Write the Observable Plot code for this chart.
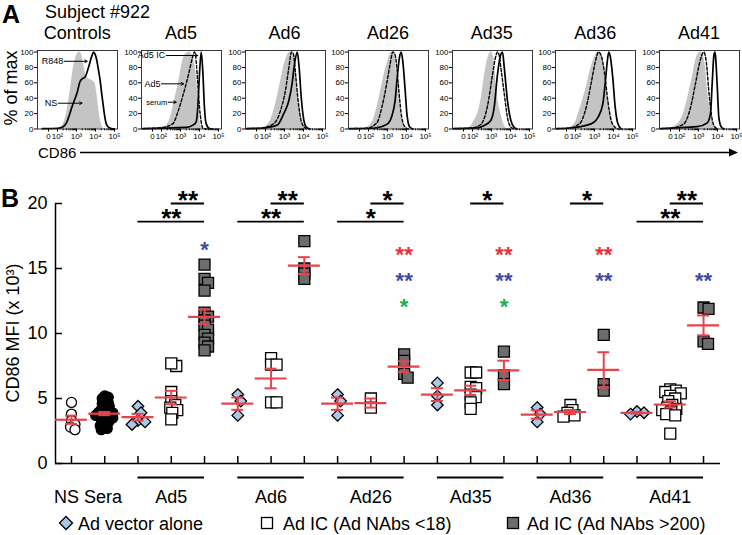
<!DOCTYPE html>
<html><head><meta charset="utf-8">
<script src="https://cdn.jsdelivr.net/npm/d3@7"></script>
<script src="https://cdn.jsdelivr.net/npm/@observablehq/plot@0.6"></script>
<style>
body{margin:0;background:#fff;}
#root{position:relative;width:742px;height:535px;overflow:hidden;background:#fff;}
#root svg{position:absolute;overflow:visible;}
</style></head><body><div id="root"></div>
<script>
// ================= DATA =================
// Panel A : flow-cytometry histograms (x in log10 display units, y in % of max)
const panelTitles = ["Controls", "Ad5", "Ad6", "Ad26", "Ad35", "Ad36", "Ad41"];
const histTickPos = [1.526, 2, 3, 4, 5];
const histTickText = ["0", "10²", "10³", "10⁴", "10⁵"];
const pctTicks = [0, 20, 40, 60, 80, 100];

const histGrey = [
  [[1.95,0],[2.15,2],[2.32,7],[2.49,22],[2.67,50],[2.84,80],[3.02,96],[3.12,100],[3.25,98],[3.37,85],[3.46,74],[3.63,65],[3.81,63],[3.98,59],[4.07,46],[4.16,28],[4.25,13],[4.33,5],[4.45,0]],
  [[1.9,0],[2.07,1],[2.25,4],[2.42,11],[2.55,22],[2.68,37],[2.82,52],[2.95,67],[3.12,89],[3.3,98],[3.45,100],[3.65,94],[3.82,72],[3.91,46],[4.0,16],[4.09,3.5],[4.18,0]],
  [[1.6,0],[1.9,2],[2.26,11],[2.45,25],[2.61,41],[2.75,57],[2.88,72],[3.0,85],[3.14,95],[3.28,100],[3.49,93],[3.63,67],[3.75,37],[3.88,11],[4.02,2],[4.15,0]],
  [[1.6,0],[1.91,2],[2.26,12],[2.53,37],[2.79,67],[3.05,91],[3.2,100],[3.4,93],[3.49,67],[3.63,37],[3.75,15],[3.88,3],[4.0,0]],
  [[1.6,0],[1.9,3],[2.09,11],[2.3,22],[2.44,37],[2.7,80],[2.88,97],[2.98,100],[3.14,89],[3.23,63],[3.32,41],[3.49,20],[3.67,4.5],[3.85,0]],
  [[1.3,0],[1.6,1],[1.95,6.7],[2.21,24],[2.56,54],[2.82,80],[3.09,97.6],[3.2,100],[3.26,98.5],[3.44,89],[3.61,54],[3.79,24],[3.96,6.7],[4.14,0]],
  [[1.3,0],[1.53,1],[2.05,11],[2.4,37],[2.67,67],[2.93,95.5],[3.1,100],[3.19,98.5],[3.37,80],[3.46,54],[3.63,24],[3.77,6.7],[3.95,2],[4.2,0]]
];
const histDashed = [
  [],
  [[1.0,0.5],[2.07,2],[2.6,7],[2.86,22],[3.12,43],[3.3,59],[3.47,76],[3.61,91],[3.74,100],[3.82,89],[3.91,59],[4.0,28],[4.09,9],[4.18,1],[4.4,0]],
  [[1.0,0.5],[1.74,1],[2.44,7],[2.79,24],[3.05,50],[3.23,80],[3.37,100],[3.46,98],[3.58,72],[3.7,41],[3.84,15],[4.02,3],[4.2,0]],
  [[1.0,0.5],[1.91,1],[2.44,8],[2.7,28],[2.96,59],[3.14,85],[3.28,100],[3.4,96],[3.49,80],[3.61,46],[3.75,15],[3.93,2.5],[4.1,0]],
  [[1.0,0.5],[2.0,1.5],[2.44,6],[2.79,30],[3.05,70],[3.2,92],[3.32,100],[3.4,96],[3.49,80],[3.67,46],[3.84,15],[4.02,2.4],[4.2,0]],
  [[1.0,0.5],[1.6,1],[2.21,6.7],[2.56,28],[2.82,59],[3.04,87],[3.21,100],[3.35,95.5],[3.53,72],[3.7,37],[3.88,11],[4.09,2],[4.25,0]],
  [[1.0,0.5],[1.53,1],[2.23,6.7],[2.58,28],[2.84,59],[3.07,87],[3.28,100],[3.42,85],[3.54,50],[3.67,20],[3.81,4.5],[4.0,0]]
];
const histSolid = [
  [[1.2,0.5],[2.0,1],[2.3,3],[2.49,9],[2.65,20],[2.75,28],[2.9,38],[3.02,46],[3.19,62],[3.35,66],[3.46,68],[3.63,80],[3.81,95],[3.9,100],[3.98,97],[4.07,89],[4.16,76],[4.25,62],[4.33,45],[4.42,28],[4.5,14],[4.56,7],[4.7,2],[4.85,0.5],[5.0,0]],
  [[1.0,0.5],[3.3,2],[3.65,5],[3.82,9],[3.91,28],[4.0,72],[4.09,100],[4.18,72],[4.26,28],[4.35,7],[4.53,0.5],[4.7,0]],
  [[1.0,0.5],[1.74,1],[2.61,5],[2.96,20],[3.23,37],[3.4,59],[3.53,85],[3.67,100],[3.77,80],[3.88,41],[4.02,11],[4.16,2],[4.35,0]],
  [[1.0,0.5],[2.26,1],[2.96,6],[3.23,17],[3.4,37],[3.53,72],[3.63,93],[3.72,100],[3.81,87],[3.93,50],[4.02,20],[4.16,3],[4.35,0]],
  [[1.0,0.5],[2.3,1.5],[2.61,4.5],[2.96,11],[3.14,28],[3.32,72],[3.49,97],[3.58,100],[3.67,80],[3.84,37],[4.02,11],[4.19,2],[4.35,0]],
  [[1.0,0.5],[1.6,1],[2.82,6.7],[3.18,15],[3.44,33],[3.56,59],[3.67,87],[3.75,100],[3.84,93],[3.96,67],[4.09,28],[4.23,6.7],[4.4,0]],
  [[1.0,0.5],[2.93,3],[3.46,8],[3.63,20],[3.72,59],[3.81,96],[3.86,100],[3.89,96],[3.98,59],[4.07,15],[4.19,3],[4.35,0]]
];
// arrow annotations inside panels A
const annotPanel = [0, 0, 1, 1, 1];
const annotLabel = ["R848", "NS", "Ad5 IC", "Ad5", "serum"];
const annotFrom = [2.35, 2.04, 2.25, 2.0, 2.35];
const annotTo = [3.56, 3.29, 3.91, 3.16, 2.77];
const annotLevel = [88, 33.5, 95.5, 58.7, 34.8];

// Panel B : CD86 MFI (x 10^3)
const yTicksB = [0, 5, 10, 15, 20];
const nsValues = [4.7, 3.8, 3.3, 3.0, 2.8, 2.6];
const seraValues = [5.2, 5.1, 5.0, 4.8, 4.7, 4.6, 4.5, 4.4, 4.3, 4.2, 4.1, 4.0, 4.0, 3.9, 3.9, 3.8, 3.8, 3.7, 3.7, 3.6, 3.6, 3.5, 3.5, 3.4, 3.3, 3.2, 3.1, 3.0, 2.9, 2.8, 2.7, 2.6];
const adGroups = ["Ad5", "Ad6", "Ad26", "Ad35", "Ad36", "Ad41"];
const vectorAlone = [
  [4.4, 3.9, 3.3, 3.0, 3.2],
  [5.3, 4.8, 3.7],
  [5.3, 4.8, 3.7],
  [6.2, 5.2, 4.5],
  [4.3, 3.8, 3.2],
  [4.0, 3.9, 3.8]
];
const icLowNAb = [
  [7.5, 7.7, 5.5, 4.8, 4.5, 4.3, 4.1, 3.9, 3.4],
  [8.1, 7.6, 7.6, 4.7, 4.7],
  [5.0, 4.3],
  [7.0, 7.0, 5.9, 5.8, 5.3, 5.1, 4.7, 4.2],
  [4.5, 4.1, 3.9, 3.7, 3.6],
  [5.7, 5.6, 5.5, 5.4, 5.2, 5.0, 4.8, 4.5, 4.3, 4.2, 4.1, 4.0, 3.8, 3.7, 2.3]
];
const icHighNAb = [
  [15.3, 14.2, 13.9, 13.3, 11.6, 11.3, 11.0, 10.6, 10.3, 9.9, 9.6, 9.3, 9.0, 8.7],
  [17.1, 15.0, 14.6, 14.2],
  [8.4, 7.9, 6.9, 6.6],
  [8.6, 6.8, 6.1],
  [9.9, 6.1, 5.6],
  [12.0, 11.9, 9.4, 9.2]
];
// black significance brackets (always ending at the "NAbs >200" column)
const bracketGroup = ["Ad5", "Ad5", "Ad6", "Ad6", "Ad26", "Ad26", "Ad35", "Ad36", "Ad41", "Ad41"];
const bracketFrom = ["low", "alone", "low", "alone", "low", "alone", "low", "low", "low", "alone"];
const bracketTier = [1, 2, 1, 2, 1, 2, 1, 1, 1, 2];
const bracketText = ["**", "**", "**", "**", "*", "*", "*", "*", "**", "**"];
// coloured significance stars above the "NAbs >200" column
const starGroup = ["Ad5", "Ad26", "Ad26", "Ad26", "Ad35", "Ad35", "Ad35", "Ad36", "Ad36", "Ad41"];
const starKey = ["blue", "red", "blue", "green", "red", "blue", "green", "red", "blue", "blue"];
const starText = ["*", "**", "**", "*", "**", "**", "*", "**", "**", "**"];
const starTier = ["top", "r1", "r2", "r3", "r1", "r2", "r3", "r1", "r2", "r2"];
const legendLabels = ["Ad vector alone", "Ad IC (Ad NAbs <18)", "Ad IC (Ad NAbs >200)"];

// ================= STYLE / LAYOUT =================
const FONT = '"Liberation Sans", Arial, Helvetica, sans-serif';
const RED = "#e8434b";
const starColors = {red: "#ec2d34", blue: "#3d4aa3", green: "#1fae4b"};
const BLUE_FILL = "#a9c7e6", GREY_FILL = "#6d6d6d", HIST_GREY = "#c4c4c4";
const root = document.getElementById("root");

// ---------- overlay with titles ----------
const ov = d3.create("svg").attr("width", 742).attr("height", 535)
  .style("left", "0px").style("top", "0px").style("font-family", FONT);
const txt = (x, y, s, size, opts = {}) => {
  const t = ov.append("text").attr("x", x).attr("y", y).attr("font-size", size).text(s);
  if (opts.bold) t.attr("font-weight", "bold");
  if (opts.anchor) t.attr("text-anchor", opts.anchor);
  if (opts.rotate) t.attr("transform", `rotate(-90 ${x} ${y})`);
  return t;
};
txt(2, 23, "A", 25, {bold: true});
txt(45, 18, "Subject #922", 18);
const boxW = 80, mL = 26, mR = 6, step = 103.6, box0 = 37.3;
panelTitles.forEach((t, i) => txt(box0 + i * step + boxW / 2, 39, t, 18, {anchor: "middle"}));
txt(17, 88, "% of max", 18, {anchor: "middle", rotate: true});
txt(38, 157.5, "CD86", 15);
ov.append("line").attr("x1", 80).attr("x2", 731).attr("y1", 152.5).attr("y2", 152.5).attr("stroke", "#000").attr("stroke-width", 1.5);
ov.append("path").attr("d", "M738,152.5 L729,148.5 L729,156.5 Z").attr("fill", "#000");
txt(1, 207, "B", 25, {bold: true});
txt(19, 333, "CD86 MFI (x 10³)", 18, {anchor: "middle", rotate: true});
// legend
const lgY = 523;
ov.append("path").attr("d", `M66,${lgY - 6.5} L72.5,${lgY} L66,${lgY + 6.5} L59.5,${lgY} Z`).attr("fill", BLUE_FILL).attr("stroke", "#000").attr("stroke-width", 1.3);
txt(78, lgY + 6.5, legendLabels[0], 18);
ov.append("rect").attr("x", 261.5).attr("y", lgY - 5.5).attr("width", 11).attr("height", 11).attr("fill", "#fff").attr("stroke", "#000").attr("stroke-width", 1.3);
txt(283, lgY + 6.5, legendLabels[1], 18);
ov.append("rect").attr("x", 507.5).attr("y", lgY - 5.5).attr("width", 11).attr("height", 11).attr("fill", GREY_FILL).attr("stroke", "#000").attr("stroke-width", 1.3);
txt(527, lgY + 6.5, legendLabels[2], 18);
root.append(ov.node());

// ---------- Panel A ----------
const uMin = 0.947, uMax = uMin + boxW / 19;
const minorTicks = [];
for (const k of [2, 3, 4]) for (let m = 2; m <= 9; m++) minorTicks.push(k + Math.log10(m));
const rows = arr => arr.map(([u, p]) => ({u, p}));
panelTitles.forEach((title, i) => {
  const ann = annotLabel.map((label, j) => ({label, panel: annotPanel[j], x1: annotFrom[j], x2: annotTo[j], y: annotLevel[j]}))
    .filter(d => d.panel === i);
  const svg = Plot.plot({
    width: mL + boxW + mR, height: 108,
    marginLeft: mL, marginRight: mR, marginTop: 10, marginBottom: 19.5,
    x: {domain: [uMin, uMax]}, y: {domain: [0, 102]},
    style: {fontFamily: FONT, background: "transparent", overflow: "visible"},
    marks: [
      Plot.areaY(rows(histGrey[i]), {x: "u", y: "p", fill: HIST_GREY, curve: "monotone-x"}),
      Plot.line(rows(histDashed[i]), {x: "u", y: "p", stroke: "#000", strokeWidth: 1.4, strokeDasharray: "3,2", curve: "monotone-x"}),
      Plot.line(rows(histSolid[i]), {x: "u", y: "p", stroke: "#000", strokeWidth: 1.7, curve: "monotone-x"}),
      Plot.frame({stroke: "#222", strokeWidth: 0.9}),
      Plot.axisY(pctTicks, {tickSize: 3, tickPadding: 1, fontSize: 8, label: null}),
      Plot.axisX(histTickPos, {tickSize: 3, tickPadding: 1, fontSize: 8, label: null, tickFormat: d => histTickText[histTickPos.indexOf(d)]}),
      Plot.axisX(minorTicks, {tickSize: 1.8, tickFormat: () => "", label: null}),
      Plot.arrow(ann, {x1: "x1", x2: "x2", y1: "y", y2: "y", stroke: "#000", strokeWidth: 1, headLength: 4}),
      Plot.text(ann.filter(d => d.label !== "serum"), {x: "x1", y: "y", text: "label", textAnchor: "end", dx: -1, fontSize: 9}),
      Plot.text(ann.filter(d => d.label === "serum"), {x: "x1", y: "y", text: "label", textAnchor: "end", dx: -1, fontSize: 7.5})
    ]
  });
  svg.style.left = (box0 + i * step - mL) + "px";
  svg.style.top = "40px";
  root.append(svg);
});

// ---------- Panel B ----------
const xMin = -0.48, xMax = 19.51;
const bW = 742, bH = 340, bL = 55, bR = 22, bT = 43, bB = 37;
const pxPerX = (bW - bL - bR) / (xMax - xMin);
const pxPerY = (bH - bT - bB) / 20;
function swarm(vals, minDist) {
  const order = vals.map((v, i) => i).sort((a, b) => vals[b] - vals[a]);
  const placed = [], off = new Array(vals.length).fill(0);
  for (const i of order) {
    const y = vals[i] * pxPerY;
    for (let k = 0; k < 400; k++) {
      const c = (k % 2 ? 1 : -1) * Math.ceil(k / 2) * 0.5;
      if (placed.every(p => (c - p.x) ** 2 + (y - p.y) ** 2 >= minDist * minDist)) {
        off[i] = c; placed.push({x: c, y}); break;
      }
    }
  }
  return off.map(o => o / pxPerX);
}
const columns = [];
columns.push({idx: 0, kind: "ns", vals: nsValues});
columns.push({idx: 1, kind: "sera", vals: seraValues});
adGroups.forEach((g, gi) => {
  columns.push({idx: 2 + 3 * gi, kind: "alone", group: g, vals: vectorAlone[gi]});
  columns.push({idx: 3 + 3 * gi, kind: "low", group: g, vals: icLowNAb[gi]});
  columns.push({idx: 4 + 3 * gi, kind: "high", group: g, vals: icHighNAb[gi]});
});
const minDist = {ns: 5, sera: 3.6, alone: 7, low: 5.5, high: 5};
const points = [];
columns.forEach(c => {
  const offs = swarm(c.vals, minDist[c.kind]);
  c.vals.forEach((v, j) => points.push({x: c.idx + offs[j], v, kind: c.kind}));
});
const stats = columns.map(c => {
  const m = d3.mean(c.vals), s = d3.deviation(c.vals) / Math.sqrt(c.vals.length);
  return {i: c.idx, mean: m, lo: m - s, hi: m + s};
});
const colIndex = (g, kind) => columns.find(c => c.group === g && c.kind === kind).idx;
const groupRows = adGroups.map(g => ({name: g, start: colIndex(g, "alone"), end: colIndex(g, "high"), mid: colIndex(g, "low")}));
const categoryIdx = columns.map(c => c.idx);
const tierLine = {1: 20, 2: 18.6}, tierText = {1: 20.55, 2: 19.15};
const brackets = bracketGroup.map((g, j) => ({
  x1: colIndex(g, bracketFrom[j]), x2: colIndex(g, "high"),
  yLine: tierLine[bracketTier[j]], yText: tierText[bracketTier[j]], text: bracketText[j]
}));
const starY = {top: 16.9, r1: 16.5, r2: 14.5, r3: 12.5};
const stars = starGroup.map((g, j) => ({x: colIndex(g, "high"), y: starY[starTier[j]], text: starText[j], color: starColors[starKey[j]]}));

const dotStyle = {
  ns: {symbol: "circle", r: 5, fill: "#fff"},
  sera: {symbol: "circle", r: 5, fill: "#000"},
  alone: {symbol: "diamond2", r: 5.2, fill: BLUE_FILL},
  low: {symbol: "square", r: 6.2, fill: "#fff"},
  high: {symbol: "square", r: 6.2, fill: GREY_FILL}
};
const dotMarks = Object.keys(dotStyle).map(k =>
  Plot.dot(points.filter(p => p.kind === k), {x: "x", y: "v", ...dotStyle[k], stroke: "#000", strokeWidth: 1.3}));

const plotB = Plot.plot({
  width: bW, height: bH, marginLeft: bL, marginRight: bR, marginTop: bT, marginBottom: bB,
  x: {domain: [xMin, xMax]}, y: {domain: [0, 20]},
  style: {fontFamily: FONT, fontSize: "18px", background: "transparent", overflow: "visible"},
  marks: [
    Plot.ruleX([xMin], {strokeWidth: 1.5}),
    Plot.ruleY([0], {strokeWidth: 1.5}),
    Plot.axisY(yTicksB, {tickSize: -7, tickFormat: () => "", strokeWidth: 1.5, label: null}),
    Plot.axisY(yTicksB, {tickSize: 0, tickPadding: 8, fontSize: 18, label: null}),
    Plot.axisX(categoryIdx, {tickSize: -7, tickFormat: () => "", strokeWidth: 1.5, label: null}),
    Plot.ruleY(groupRows, {y: 0, x1: "start", x2: "end", dy: 14, strokeWidth: 2}),
    Plot.text(groupRows, {x: "mid", y: 0, dy: 34, text: "name", fontSize: 18}),
    Plot.text(["NS Sera"], {x: 0.5, y: 0, dy: 34, text: d => d, fontSize: 18}),
    ...dotMarks,
    Plot.ruleY(stats, {y: "mean", x1: d => d.i - 0.48, x2: d => d.i + 0.48, stroke: RED, strokeWidth: 2.2}),
    Plot.ruleX(stats, {x: "i", y1: "lo", y2: "hi", stroke: RED, strokeWidth: 2}),
    Plot.ruleY(stats, {y: "lo", x1: d => d.i - 0.18, x2: d => d.i + 0.18, stroke: RED, strokeWidth: 2}),
    Plot.ruleY(stats, {y: "hi", x1: d => d.i - 0.18, x2: d => d.i + 0.18, stroke: RED, strokeWidth: 2}),
    Plot.ruleY(brackets, {y: "yLine", x1: "x1", x2: "x2", strokeWidth: 1.8}),
    Plot.text(brackets, {x: d => (d.x1 + d.x2) / 2, y: "yText", text: "text", fontSize: 26, fontWeight: "bold", dy: 4}),
    Plot.text(stars, {x: "x", y: "y", text: "text", fill: "color", fontSize: 22, fontWeight: "bold", dy: 6, letterSpacing: 0.5})
  ]
});
plotB.style.left = "0px";
plotB.style.top = "160px";
root.append(plotB);
</script></body></html>
